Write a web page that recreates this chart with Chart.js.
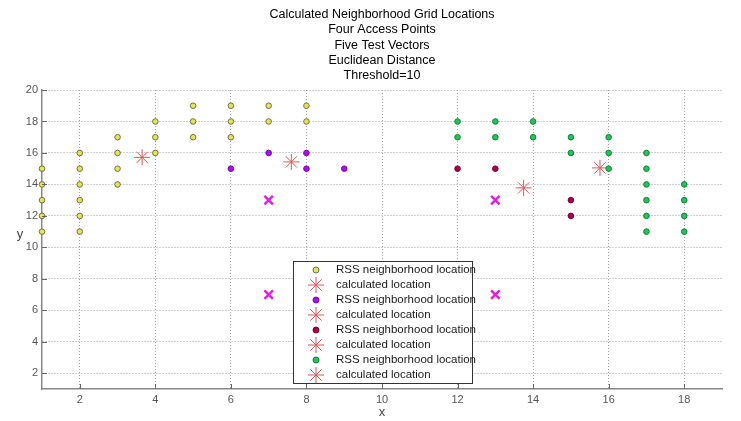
<!DOCTYPE html>
<html>
<head>
<meta charset="utf-8">
<script src="https://cdn.jsdelivr.net/npm/chart.js@4.4.0/dist/chart.umd.min.js"></script>
<style>
  html, body { margin: 0; background: #fff; }
  #wrap { width: 741px; height: 421px; }
</style>
</head>
<body>
<div id="wrap"><canvas id="chart"></canvas></div>
<script>
const titleLines = ['Calculated Neighborhood Grid Locations', 'Four Access Points', 'Five Test Vectors', 'Euclidean Distance', 'Threshold=10'];
const xTicks = [2, 4, 6, 8, 10, 12, 14, 16, 18];
const yTicks = [2, 4, 6, 8, 10, 12, 14, 16, 18, 20];

// neighborhood grid points, one pair of arrays per access point
const set1X = [1, 1, 1, 1, 1, 2, 2, 2, 2, 2, 2, 3, 3, 3, 3, 4, 4, 4, 5, 5, 5, 6, 6, 6, 7, 7, 8, 8];
const set1Y = [11, 12, 13, 14, 15, 11, 12, 13, 14, 15, 16, 14, 15, 16, 17, 16, 17, 18, 17, 18, 19, 17, 18, 19, 18, 19, 18, 19];
const set2X = [6, 7, 8, 8, 9];
const set2Y = [15, 16, 16, 15, 15];
const set3X = [12, 13, 15, 15];
const set3Y = [15, 15, 13, 12];
const set4X = [12, 12, 13, 13, 14, 14, 15, 15, 16, 16, 16, 17, 17, 17, 17, 17, 17, 18, 18, 18, 18];
const set4Y = [18, 17, 18, 17, 18, 17, 17, 16, 17, 16, 15, 16, 15, 14, 13, 12, 11, 14, 13, 12, 11];

// calculated locations (one per set) and test vector positions
const calcX = [3.65, 7.6, 13.75, 15.77];
const calcY = [15.72, 15.43, 13.78, 15.05];
const testX = [7, 7, 13, 13];
const testY = [13, 7, 13, 7];

const legendLabels = ['RSS neighborhood location', 'calculated location'];

const pts = (xs, ys) => xs.map((x, i) => ({ x, y: ys[i] }));

const FONT = "'Liberation Sans', Arial, sans-serif";

const dotSet = (xs, ys, fill, edge) => ({
  data: pts(xs, ys),
  legend: true,
  label: legendLabels[0],
  pointStyle: 'circle',
  pointRadius: 2.8,
  pointBorderWidth: 1,
  backgroundColor: fill,
  borderColor: edge,
  clip: false
});

const starSet = (i) => ({
  data: [{ x: calcX[i], y: calcY[i] }],
  legend: true,
  label: legendLabels[1],
  pointStyle: 'star',
  pointRadius: 8,
  pointBorderWidth: 1,
  backgroundColor: '#d85858',
  borderColor: '#d85858',
  clip: false
});

const datasets = [
  dotSet(set1X, set1Y, '#e4e45a', '#70704a'),
  starSet(0),
  dotSet(set2X, set2Y, '#a810e8', '#8000b8'),
  starSet(1),
  dotSet(set3X, set3Y, '#a8004a', '#800038'),
  starSet(2),
  dotSet(set4X, set4Y, '#22c45a', '#108038'),
  starSet(3),
  {
    data: pts(testX, testY),
    legend: false,
    pointStyle: 'crossRot',
    pointRadius: 6,
    pointBorderWidth: 2.5,
    backgroundColor: '#e020e0',
    borderColor: '#e020e0',
    clip: false
  }
];

// inner tick marks, upright y label and the boxed legend
const decorPlugin = {
  id: 'decor',
  afterDraw(chart) {
    const { ctx, chartArea: a, scales } = chart;
    ctx.save();
    ctx.strokeStyle = '#666';
    ctx.lineWidth = 1;
    ctx.beginPath();
    xTicks.forEach(v => {
      const x = Math.round(scales.x.getPixelForValue(v)) + 0.5;
      ctx.moveTo(x, a.bottom);
      ctx.lineTo(x, a.bottom - 5);
    });
    yTicks.forEach(v => {
      const y = Math.round(scales.y.getPixelForValue(v)) + 0.5;
      ctx.moveTo(a.left, y);
      ctx.lineTo(a.left + 5, y);
    });
    ctx.stroke();

    ctx.fillStyle = '#444';
    ctx.font = '13px ' + FONT;
    ctx.textAlign = 'center';
    ctx.textBaseline = 'middle';
    ctx.fillText('y', 20, 234);

    // legend
    const items = chart.data.datasets.filter(d => d.legend);
    const left = a.left + 251, top = a.top + 171, w = 179, h = 122;
    ctx.fillStyle = '#fff';
    ctx.fillRect(left, top, w, h);
    ctx.strokeStyle = '#333';
    ctx.strokeRect(left + 0.5, top + 0.5, w, h);
    ctx.font = '11.5px ' + FONT;
    ctx.textAlign = 'left';
    items.forEach((d, i) => {
      const y = top + 9 + i * 15;
      ctx.fillStyle = d.backgroundColor;
      ctx.strokeStyle = d.borderColor;
      ctx.lineWidth = d.pointBorderWidth;
      Chart.helpers.drawPoint(ctx, {
        pointStyle: d.pointStyle,
        radius: d.pointStyle === 'circle' ? 3 : 8,
        borderWidth: d.pointBorderWidth,
        rotation: 0
      }, left + 23, y);
      ctx.fillStyle = '#1a1a1a';
      ctx.fillText(d.label, left + 43, y);
    });
    ctx.restore();
  }
};

new Chart(document.getElementById('chart'), {
  type: 'scatter',
  data: { datasets },
  options: {
    responsive: true,
    maintainAspectRatio: false,
    animation: false,
    layout: { padding: { left: 0, right: 19, top: 0, bottom: 0 } },
    plugins: {
      legend: { display: false },
      tooltip: { enabled: false },
      title: {
        display: true,
        fullSize: false,
        text: titleLines,
        color: '#000',
        font: { family: FONT, size: 12.5, weight: 'normal', lineHeight: '15.3px' },
        padding: { top: 7, bottom: 6.5 }
      }
    },
    scales: {
      x: {
        type: 'linear',
        min: 1,
        max: 19,
        afterBuildTicks: s => { s.ticks = xTicks.map(v => ({ value: v })); },
        afterFit: s => { s.height = 32; },
        ticks: { color: '#555', font: { family: FONT, size: 11 }, padding: 4 },
        grid: { color: '#a0a0a0', drawTicks: false },
        border: { color: '#888', width: 1.5, dash: [1, 2] },
        title: { display: true, text: 'x', color: '#444', font: { family: FONT, size: 13 }, padding: { top: 0, bottom: 1 } }
      },
      y: {
        type: 'linear',
        min: 1,
        max: 20,
        afterBuildTicks: s => { s.ticks = yTicks.map(v => ({ value: v })); },
        afterFit: s => { s.width = 42; },
        ticks: { color: '#555', font: { family: FONT, size: 11 }, padding: 4 },
        grid: { color: '#a0a0a0', drawTicks: false },
        border: { color: '#888', width: 1.5, dash: [1, 2] }
      }
    }
  },
  plugins: [decorPlugin]
});
</script>
</body>
</html>
